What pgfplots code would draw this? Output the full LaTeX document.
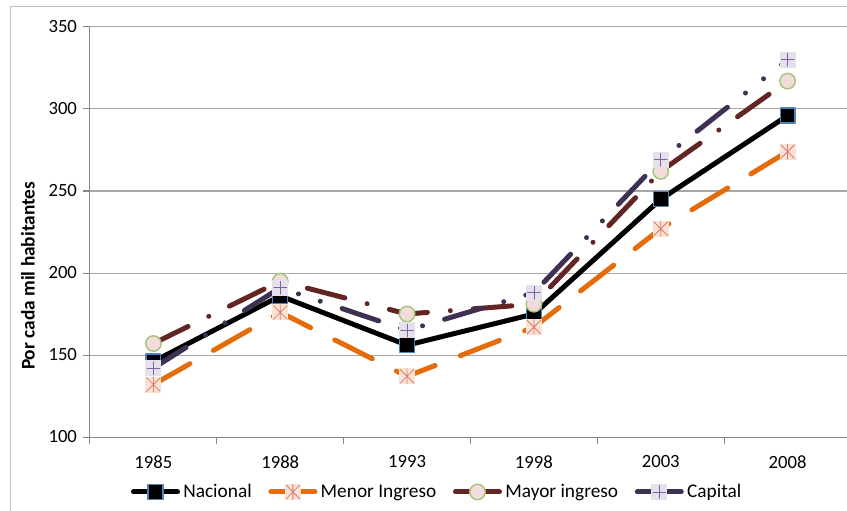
\documentclass[border=0pt]{standalone}
\usepackage{pgfplots}
\pgfplotsset{compat=1.18}
\usepackage{fontspec}
\setmainfont{Carlito}

\definecolor{framegray}{HTML}{BFBFBF}
\definecolor{axisgray}{HTML}{868686}
\definecolor{gridgray}{HTML}{A6A6A6}
\definecolor{nacborder}{HTML}{4F81BD}
\definecolor{menorline}{HTML}{E46C0A}
\definecolor{menorfill}{HTML}{FBE3D3}
\definecolor{menorast}{HTML}{DA7B74}
\definecolor{mayorline}{HTML}{632523}
\definecolor{mayorfill}{HTML}{F2DCDB}
\definecolor{mayoredge}{HTML}{A9C47F}
\definecolor{capline}{HTML}{403152}
\definecolor{capfill}{HTML}{E6E0EC}
\definecolor{capplus}{HTML}{8064A2}

% square marker with an asterisk (vertical bar plus both diagonals)
\pgfdeclareplotmark{boxast}{%
  \pgfsetdash{}{0pt}%
  \pgfsetfillcolor{menorfill}%
  \pgfpathrectangle{\pgfqpoint{-\pgfplotmarksize}{-\pgfplotmarksize}}{\pgfqpoint{2\pgfplotmarksize}{2\pgfplotmarksize}}%
  \pgfusepathqfill
  \pgfsetstrokecolor{menorast}%
  \pgfsetlinewidth{0.6pt}%
  \pgfsetroundcap
  \pgfpathmoveto{\pgfqpoint{-0.85\pgfplotmarksize}{-0.85\pgfplotmarksize}}%
  \pgfpathlineto{\pgfqpoint{0.85\pgfplotmarksize}{0.85\pgfplotmarksize}}%
  \pgfpathmoveto{\pgfqpoint{-0.85\pgfplotmarksize}{0.85\pgfplotmarksize}}%
  \pgfpathlineto{\pgfqpoint{0.85\pgfplotmarksize}{-0.85\pgfplotmarksize}}%
  \pgfpathmoveto{\pgfqpoint{0pt}{-0.95\pgfplotmarksize}}%
  \pgfpathlineto{\pgfqpoint{0pt}{0.95\pgfplotmarksize}}%
  \pgfusepathqstroke
}
% square marker with a plus
\pgfdeclareplotmark{boxplus}{%
  \pgfsetdash{}{0pt}%
  \pgfsetfillcolor{capfill}%
  \pgfpathrectangle{\pgfqpoint{-\pgfplotmarksize}{-\pgfplotmarksize}}{\pgfqpoint{2\pgfplotmarksize}{2\pgfplotmarksize}}%
  \pgfusepathqfill
  \pgfsetstrokecolor{capplus}%
  \pgfsetlinewidth{0.6pt}%
  \pgfpathmoveto{\pgfqpoint{-0.8\pgfplotmarksize}{0pt}}%
  \pgfpathlineto{\pgfqpoint{0.8\pgfplotmarksize}{0pt}}%
  \pgfpathmoveto{\pgfqpoint{0pt}{-0.8\pgfplotmarksize}}%
  \pgfpathlineto{\pgfqpoint{0pt}{0.8\pgfplotmarksize}}%
  \pgfusepathqstroke
}

\begin{document}
\begin{tikzpicture}[x=0.75pt,y=0.75pt]
\useasboundingbox (-90,-74) rectangle (757,437);
\draw[framegray, line width=0.75pt] (-79,-200) rectangle (900,430);
\begin{axis}[
  at={(0,0)}, anchor=south west,
  width=570.75pt, height=307.5pt, scale only axis,
  xmin=-0.5, xmax=5.5, ymin=100, ymax=350,
  xtick={0,...,5},
  xticklabels={1985,1988,1993,1998,2003,2008},
  minor xtick={-0.5,0.5,1.5,2.5,3.5,4.5,5.5},
  ytick={100,150,...,350},
  axis x line*=bottom, axis y line*=left,
  axis line style={axisgray, line width=0.75pt, -},
  tick align=outside,
  major tick length=5.25pt, minor tick length=5.25pt,
  major x tick style={draw=none},
  minor x tick style={axisgray, line width=0.75pt},
  major y tick style={axisgray, line width=0.75pt},
  ymajorgrids,
  grid style={gridgray, line width=0.75pt},
  /pgf/number format/assume math mode=true,
  ticklabel style={font=\fontsize{14}{16}\selectfont},
  xticklabel style={yshift=-5pt},
  yticklabel style={xshift=-1pt},
  ylabel={Por cada mil habitantes},
  every axis y label/.style={at={(axis description cs:-0.0815,0.393)}, rotate=90, anchor=center,
    font=\bfseries\fontsize{14.5}{16}\selectfont},
  legend columns=4,
  legend style={draw=none, fill=none, at={(0.457,-0.134)}, anchor=center,
    font=\fontsize{14.5}{16}\selectfont,
    /tikz/every even column/.append style={column sep=10pt},
    inner sep=0pt, nodes={inner sep=2.5pt}},
  legend image code/.code={%
    \draw[mark repeat=2, mark phase=2, #1, solid] plot coordinates {(0pt,0pt) (16.5pt,0pt) (33pt,0pt)};},
  every axis plot/.append style={line width=3.75pt, line join=round, line cap=round},
  clip=false,
]
\addplot[black, mark=square*, mark size=5.6pt,
  mark options={solid, fill=black, draw=nacborder, line width=0.9pt}]
  coordinates {(0,146) (1,186) (2,156) (3,175) (4,245) (5,296)};
\addlegendentry{Nacional}
\addplot[menorline, dash pattern=on 31.5pt off 20.25pt, mark=boxast, mark size=6pt,
  mark options={solid}]
  coordinates {(0,132) (1,176) (2,137) (3,167) (4,227) (5,274)};
\addlegendentry{Menor Ingreso}
\addplot[mayorline, dash pattern=on 29pt off 17.25pt on 0.01pt off 17.25pt, mark=*, mark size=5.8pt,
  mark options={solid, fill=mayorfill, draw=mayoredge, line width=1.1pt}]
  coordinates {(0,157) (1,195) (2,175) (3,181) (4,262) (5,317)};
\addlegendentry{Mayor ingreso}
\addplot[capline, dash pattern=on 29pt off 17.25pt on 0.01pt off 17.25pt on 0.01pt off 17.25pt, mark=boxplus, mark size=6pt,
  mark options={solid}]
  coordinates {(0,142) (1,191) (2,165) (3,188) (4,269) (5,330)};
\addlegendentry{Capital}
\end{axis}
\end{tikzpicture}
\end{document}
